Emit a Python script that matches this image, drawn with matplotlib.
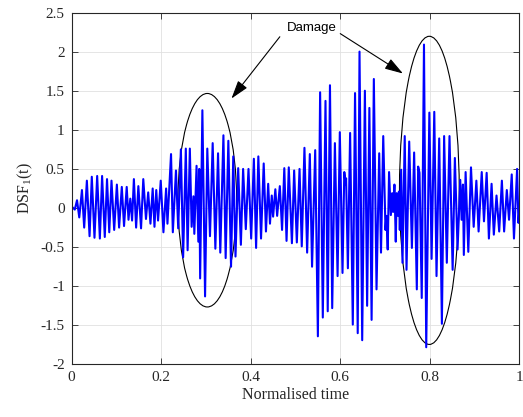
import matplotlib
matplotlib.use("Agg")
import matplotlib.pyplot as plt
from matplotlib.patches import Ellipse

plt.rcParams["mathtext.fontset"] = "custom"
plt.rcParams["mathtext.rm"] = "Liberation Serif"
plt.rcParams["mathtext.it"] = "Liberation Serif:italic"

# signal extrema (normalised time, DSF_1 value)
t_norm = [0.000, 0.007, 0.012, 0.017, 0.023, 0.028, 0.034, 0.040, 0.045, 0.051,
          0.057, 0.063, 0.068, 0.074, 0.079, 0.084, 0.089, 0.095, 0.101, 0.106,
          0.112, 0.117, 0.123, 0.127, 0.131, 0.135, 0.139, 0.144, 0.149, 0.155,
          0.160, 0.166, 0.171, 0.176, 0.181, 0.185, 0.189, 0.193, 0.199, 0.205,
          0.211, 0.214, 0.222, 0.226, 0.233, 0.238, 0.244, 0.249, 0.255, 0.259,
          0.264, 0.268, 0.272, 0.274, 0.279, 0.283, 0.285, 0.287, 0.292, 0.298,
          0.303, 0.309, 0.315, 0.321, 0.327, 0.332, 0.339, 0.344, 0.350, 0.356,
          0.361, 0.366, 0.372, 0.378, 0.383, 0.389, 0.395, 0.401, 0.407, 0.412,
          0.417, 0.423, 0.429, 0.434, 0.439, 0.443, 0.447, 0.450, 0.455, 0.459,
          0.465, 0.470, 0.475, 0.480, 0.485, 0.492, 0.497, 0.503, 0.509, 0.514,
          0.520, 0.526, 0.532, 0.537, 0.544, 0.550, 0.555, 0.561, 0.567, 0.572,
          0.577, 0.582, 0.588, 0.594, 0.599, 0.605, 0.609, 0.612, 0.613, 0.617,
          0.622, 0.628, 0.633, 0.639, 0.643, 0.649, 0.655, 0.660, 0.665, 0.670,
          0.675, 0.681, 0.687, 0.691, 0.696, 0.701, 0.703, 0.706, 0.709, 0.713,
          0.716, 0.718, 0.721, 0.724, 0.726, 0.729, 0.731, 0.733, 0.736, 0.739,
          0.744, 0.748, 0.754, 0.760, 0.765, 0.771, 0.774, 0.777, 0.782, 0.787,
          0.792, 0.799, 0.804, 0.810, 0.815, 0.821, 0.827, 0.832, 0.838, 0.844,
          0.851, 0.856, 0.862, 0.868, 0.871, 0.874, 0.876, 0.880, 0.886, 0.892,
          0.898, 0.904, 0.909, 0.916, 0.921, 0.927, 0.932, 0.938, 0.943, 0.949,
          0.955, 0.961, 0.966, 0.972, 0.977, 0.983, 0.988, 0.995, 0.998, 1.000]
dsf = [0.02, -0.02, 0.10, -0.12, 0.23, -0.25, 0.35, -0.36, 0.40, -0.38,
       0.41, -0.39, 0.41, -0.37, 0.37, -0.31, 0.35, -0.28, 0.30, -0.25,
       0.27, -0.23, 0.27, -0.15, 0.12, -0.16, 0.37, -0.25, 0.28, -0.26,
       0.37, -0.14, 0.20, -0.20, 0.25, -0.24, 0.23, -0.16, 0.35, -0.31,
       0.25, -0.20, 0.69, -0.31, 0.48, -0.26, 0.75, -0.63, 0.76, -0.54,
       0.76, -0.24, 0.15, -0.33, 0.54, -0.43, 0.50, -0.90, 1.25, -1.13,
       0.76, -0.36, 0.83, -0.52, 0.70, -0.57, 0.93, -0.64, 0.86, -0.75,
       0.66, -0.62, 0.51, -0.47, 0.50, -0.27, 0.50, -0.39, 0.63, -0.51,
       0.66, -0.39, 0.57, -0.30, 0.31, -0.20, 0.16, -0.11, 0.24, -0.10,
       0.28, -0.28, 0.51, -0.42, 0.52, -0.45, 0.48, -0.44, 0.50, -0.49,
       0.77, -0.57, 0.69, -0.75, 0.74, -1.64, 1.48, -1.40, 1.37, -1.32,
       1.57, -1.28, 0.83, -0.87, 0.97, -0.83, 0.46, 0.30, 0.38, -0.77,
       0.96, -1.49, 1.47, -1.60, 2.00, -1.69, 1.50, -1.25, 1.28, -1.43,
       1.65, -1.04, 0.70, -0.57, 0.92, -0.28, -0.10, -0.53, 0.46, -0.09,
       0.19, -0.05, 0.30, -0.43, 0.19, -0.10, 0.21, -0.28, 0.49, -0.70,
       0.92, -0.79, 0.85, -0.51, 0.71, -1.04, 0.53, 0.45, -1.15, 2.09,
       -1.78, 1.22, -0.65, 1.23, -0.87, 0.89, -1.48, 0.92, -0.70, 0.92,
       -0.79, 0.64, -0.53, 0.36, -0.15, 0.30, -0.60, 0.46, -0.56, 0.52,
       -0.24, 0.35, -0.30, 0.46, -0.17, 0.45, -0.39, 0.31, -0.34, 0.16,
       -0.30, 0.35, -0.30, 0.23, -0.15, 0.43, -0.39, 0.50, -0.19, -0.02]

x_ticks = [0, 0.2, 0.4, 0.6, 0.8, 1]
x_labels = ["0", "0.2", "0.4", "0.6", "0.8", "1"]
y_ticks = [-2, -1.5, -1, -0.5, 0, 0.5, 1, 1.5, 2, 2.5]
y_labels = ["-2", "-1.5", "-1", "-0.5", "0", "0.5", "1", "1.5", "2", "2.5"]

fig = plt.figure(figsize=(5.23, 4.17), dpi=100)
ax = fig.add_axes([0.137, 0.126, 0.856, 0.844])

ax.plot(t_norm, dsf, color=(0, 0, 1), lw=1.5)

# damage regions
ax.add_patch(Ellipse((0.303, 0.10), 0.131, 2.73, fill=False, ec="k", lw=0.8))
ax.add_patch(Ellipse((0.799, 0.226), 0.1335, 3.94, fill=False, ec="k", lw=0.8))

ax.text(0.536, 2.30, "Damage", ha="center", va="center",
        family="Liberation Sans", fontsize=9.5)
arr = dict(arrowstyle="-|>,head_length=0.7,head_width=0.22", color="k",
           lw=0.8, mutation_scale=16, shrinkA=0, shrinkB=0)
ax.annotate("", xy=(0.357, 1.40), xytext=(0.465, 2.19), arrowprops=arr)
ax.annotate("", xy=(0.740, 1.72), xytext=(0.600, 2.23), arrowprops=arr)

ax.set_xlim(0, 1)
ax.set_ylim(-2, 2.5)
ax.set_xticks(x_ticks)
ax.set_xticklabels(x_labels)
ax.set_yticks(y_ticks)
ax.set_yticklabels(y_labels)
for lab in ax.get_xticklabels() + ax.get_yticklabels():
    lab.set_family("Liberation Serif")
    lab.set_fontsize(11)
ax.tick_params(direction="in", length=4, width=0.6, top=True, right=True,
               colors="0.15", labelcolor="0.15", pad=5)
ax.grid(True, color="0.88", lw=0.6)
ax.set_axisbelow(True)
for s in ax.spines.values():
    s.set_color("0.15")
    s.set_linewidth(0.8)

ax.set_xlabel("Normalised time", family="Liberation Serif", fontsize=11.5,
              color="0.15", labelpad=2)
ax.set_ylabel("DSF$_1$(t)", family="Liberation Serif", fontsize=11.5,
              color="0.15", labelpad=4)

fig.savefig("out.png", dpi=100)
